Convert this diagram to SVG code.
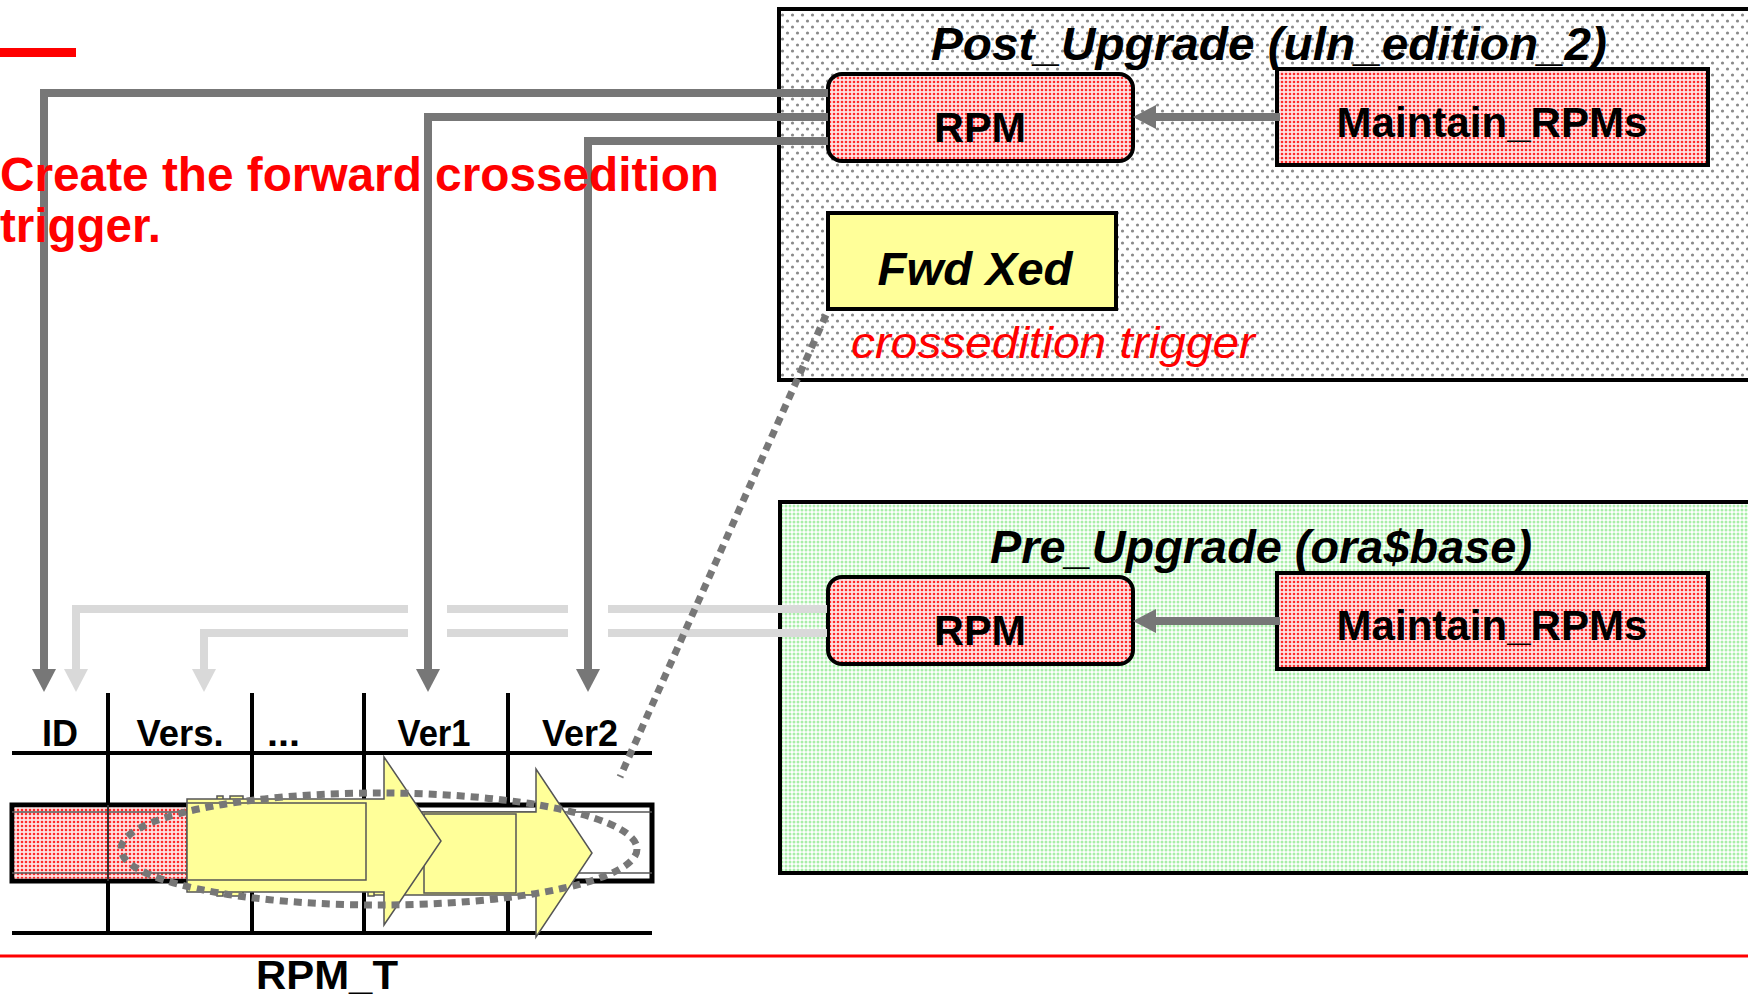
<svg xmlns="http://www.w3.org/2000/svg" width="1748" height="995" viewBox="0 0 1748 995">
  <defs>
    <pattern id="dotsGray" width="10" height="12" patternUnits="userSpaceOnUse">
      <rect width="10" height="12" fill="#ffffff"/>
      <circle cx="2.5" cy="3" r="1.6" fill="#8a8a8a"/>
      <circle cx="7.5" cy="9" r="1.6" fill="#8a8a8a"/>
    </pattern>
    <pattern id="dotsRed" width="4" height="4" patternUnits="userSpaceOnUse">
      <rect width="4" height="4" fill="#ffe2e2"/>
      <circle cx="2" cy="2" r="1.3" fill="#ff2a2a"/>
    </pattern>
    <pattern id="dotsGreen" width="4" height="4" patternUnits="userSpaceOnUse">
      <rect width="4" height="4" fill="#ffffff"/>
      <circle cx="2" cy="2" r="1.5" fill="#a8eea8"/>
    </pattern>
    <marker id="headDark" markerUnits="userSpaceOnUse" markerWidth="23" markerHeight="24" refX="0" refY="12" orient="auto">
      <path d="M0,0 L23,12 L0,24 z" fill="#777777"/>
    </marker>
    <marker id="headLight" markerUnits="userSpaceOnUse" markerWidth="23" markerHeight="24" refX="0" refY="12" orient="auto">
      <path d="M0,0 L23,12 L0,24 z" fill="#d9d9d9"/>
    </marker>
    <style>
      .txt { font-family: "Liberation Sans", Arial, sans-serif; }
      .bold { font-weight: bold; }
      .ital { font-style: italic; }
      .red { fill: #ff0000; }
      .blk { fill: #000000; }
      .edition { stroke: #000000; stroke-width: 4; }
      .box { stroke: #000000; stroke-width: 4; }
      .dark { fill: none; stroke: #777777; stroke-width: 8; }
      .light { fill: none; stroke: #d9d9d9; stroke-width: 8; }
      .grid { stroke: #000000; stroke-width: 4; }
      .yarrow { fill: #ffff99; stroke: #555555; stroke-width: 1.5; }
      .dotted { fill: none; stroke: #777777; stroke-width: 7; stroke-dasharray: 8 6; }
    </style>
  </defs>

  <!-- title accent -->
  <rect x="0" y="48" width="76" height="9" fill="#ff0000"/>

  <!-- editions -->
  <g id="post-upgrade">
    <rect class="edition" x="779" y="9" width="990" height="371" fill="url(#dotsGray)"/>
    <text class="txt bold ital blk" x="931" y="60" font-size="47" textLength="676" lengthAdjust="spacingAndGlyphs">Post_Upgrade (uln_edition_2)</text>
  </g>
  <g id="pre-upgrade">
    <rect class="edition" x="780" y="502" width="990" height="371" fill="url(#dotsGreen)"/>
    <text class="txt bold ital blk" x="990" y="563" font-size="47" textLength="542" lengthAdjust="spacingAndGlyphs">Pre_Upgrade (ora$base)</text>
  </g>

  <!-- nodes in Post_Upgrade -->
  <g id="post-rpm">
    <rect class="box" x="828" y="74" width="305" height="87" rx="14" fill="url(#dotsRed)"/>
    <text class="txt bold blk" x="980" y="142" font-size="42" text-anchor="middle" textLength="92" lengthAdjust="spacingAndGlyphs">RPM</text>
  </g>
  <g id="post-maintain">
    <rect class="box" x="1277" y="69" width="431" height="96" fill="url(#dotsRed)"/>
    <text class="txt bold blk" x="1492" y="137" font-size="42" text-anchor="middle" textLength="311" lengthAdjust="spacingAndGlyphs">Maintain_RPMs</text>
  </g>
  <g id="fwd-xed">
    <rect class="box" x="828" y="213" width="288" height="96" fill="#ffff99"/>
    <text class="txt bold ital blk" x="975" y="285" font-size="46" text-anchor="middle" textLength="195" lengthAdjust="spacingAndGlyphs">Fwd Xed</text>
    <text class="txt ital red" x="851" y="358" font-size="45" textLength="404" lengthAdjust="spacingAndGlyphs">crossedition trigger</text>
  </g>

  <!-- nodes in Pre_Upgrade -->
  <g id="pre-rpm">
    <rect class="box" x="828" y="577" width="305" height="87" rx="14" fill="url(#dotsRed)"/>
    <text class="txt bold blk" x="980" y="645" font-size="42" text-anchor="middle" textLength="92" lengthAdjust="spacingAndGlyphs">RPM</text>
  </g>
  <g id="pre-maintain">
    <rect class="box" x="1277" y="573" width="431" height="96" fill="url(#dotsRed)"/>
    <text class="txt bold blk" x="1492" y="640" font-size="42" text-anchor="middle" textLength="311" lengthAdjust="spacingAndGlyphs">Maintain_RPMs</text>
  </g>

  <!-- table RPM_T -->
  <g id="rpm-t">
    <line class="grid" x1="12" y1="753" x2="652" y2="753"/>
    <line class="grid" x1="12" y1="933" x2="652" y2="933"/>
    <line class="grid" x1="108" y1="693" x2="108" y2="933"/>
    <line class="grid" x1="252" y1="693" x2="252" y2="933"/>
    <line class="grid" x1="364" y1="693" x2="364" y2="933"/>
    <line class="grid" x1="508" y1="693" x2="508" y2="933"/>
    <g class="txt bold blk" font-size="36">
      <text x="60" y="746" text-anchor="middle">ID</text>
      <text x="180" y="746" text-anchor="middle" textLength="87" lengthAdjust="spacingAndGlyphs">Vers.</text>
      <text x="267" y="746" textLength="33" lengthAdjust="spacingAndGlyphs">...</text>
      <text x="434" y="746" text-anchor="middle" textLength="73" lengthAdjust="spacingAndGlyphs">Ver1</text>
      <text x="580" y="746" text-anchor="middle" textLength="76" lengthAdjust="spacingAndGlyphs">Ver2</text>
    </g>
    <!-- the row -->
    <rect x="12" y="805" width="640" height="76" fill="#ffffff" stroke="#000000" stroke-width="5"/>
    <rect x="14.5" y="807.5" width="174" height="71" fill="url(#dotsRed)"/>
    <line x1="12" y1="812" x2="652" y2="812" stroke="#555555" stroke-width="1.5"/>
    <line x1="12" y1="873" x2="652" y2="873" stroke="#555555" stroke-width="1.5"/>
    <line x1="108" y1="805" x2="108" y2="881" stroke="#333333" stroke-width="2"/>
    <!-- forward copy arrows -->
    <polygon class="yarrow" points="370,812 536,812 536,769 592,853 536,937 536,895 370,895"/>
    <rect class="yarrow" x="424" y="814" width="92" height="79"/>
    <g class="yarrow">
      <rect x="217" y="796" width="6" height="4"/>
      <rect x="230" y="796" width="13" height="4"/>
      <rect x="217" y="891" width="6" height="5"/>
      <rect x="230" y="891" width="13" height="5"/>
      <rect x="368" y="891" width="6" height="5"/>
    </g>
    <polygon class="yarrow" points="187,799 384,799 384,757 441,841 384,925 384,892 187,892"/>
    <rect class="yarrow" x="187" y="803" width="179" height="77"/>
    <ellipse class="dotted" cx="379" cy="849" rx="258" ry="56"/>
    <text class="txt bold blk" x="327" y="989" font-size="41" text-anchor="middle" textLength="142" lengthAdjust="spacingAndGlyphs">RPM_T</text>
  </g>

  <!-- connectors -->
  <g id="connectors">
    <path class="dark" d="M1280,117 H1156" marker-end="url(#headDark)"/>
    <path class="dark" d="M1280,621 H1156" marker-end="url(#headDark)"/>
    <!-- from Pre_Upgrade RPM, broken where the darker lines cross -->
    <path class="light" d="M827,609 H608 M568,609 H447 M408,609 H76 V669" marker-end="url(#headLight)"/>
    <path class="light" d="M827,633 H608 M568,633 H447 M408,633 H204 V669" marker-end="url(#headLight)"/>
    <!-- from Post_Upgrade RPM -->
    <path class="dark" d="M828,93 H44 V669" marker-end="url(#headDark)"/>
    <path class="dark" d="M828,117 H428 V669" marker-end="url(#headDark)"/>
    <path class="dark" d="M828,141 H588 V669" marker-end="url(#headDark)"/>
    <!-- trigger to table row -->
    <line class="dotted" x1="826" y1="315" x2="620" y2="777"/>
  </g>

  <!-- bottom rule and heading text -->
  <line x1="0" y1="956" x2="1748" y2="956" stroke="#ff0000" stroke-width="3"/>
  <g class="txt bold red" font-size="48">
    <text x="0" y="191" textLength="719" lengthAdjust="spacingAndGlyphs">Create the forward crossedition</text>
    <text x="0" y="242" textLength="161" lengthAdjust="spacingAndGlyphs">trigger.</text>
  </g>
</svg>
